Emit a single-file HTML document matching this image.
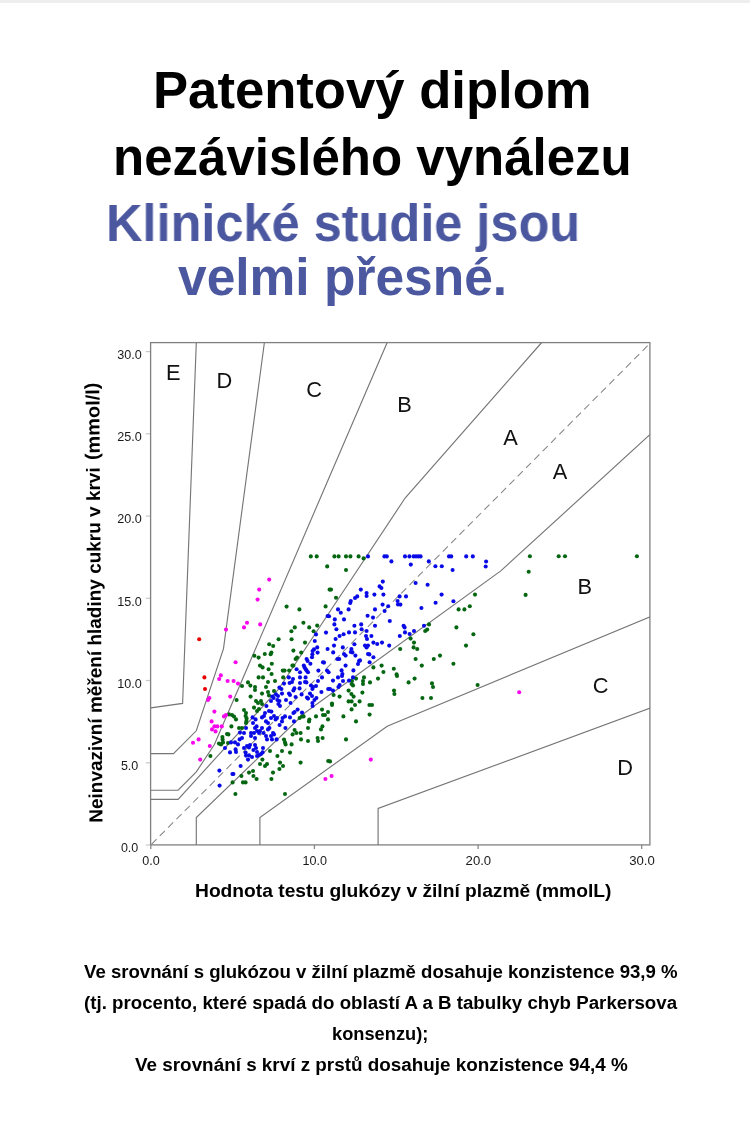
<!DOCTYPE html>
<html><head><meta charset="utf-8">
<style>
html,body{margin:0;padding:0;background:#fff;}
body{width:750px;height:1131px;position:relative;overflow:hidden;font-family:"Liberation Sans",sans-serif;}
.topbar{position:absolute;left:0;top:0;width:750px;height:3px;background:#eeeeee;}
.t{position:absolute;white-space:nowrap;font-weight:bold;line-height:1;transform-origin:0 0;will-change:transform;}
.h{font-size:51px;color:#000;}
.b{font-size:51px;color:#4b589f;}
.p{font-size:18px;color:#000;}
svg{position:absolute;left:0;top:0;will-change:transform;}
svg text{font-family:"Liberation Sans",sans-serif;}
</style></head><body>
<div class="topbar"></div>
<div class="t h" id="l1" style="left:152.8px;top:65.1px;transform:scaleX(1.032);">Patentový diplom</div>
<div class="t h" id="l2" style="left:112.8px;top:132.4px;transform:scaleX(1.0);">nezávislého vynálezu</div>
<div class="t b" id="l3" style="left:105.9px;top:198.3px;transform:scaleX(0.99);">Klinické studie jsou</div>
<div class="t b" id="l4" style="left:178px;top:252.4px;transform:scaleX(1.0095);">velmi přesné.</div>
<svg id="chart" width="750" height="1131" viewBox="0 0 750 1131">
<g id="ticks" fill="none" stroke="#c8c8c8" stroke-width="1.2"><line x1="150.8" y1="845" x2="150.8" y2="849" stroke="#8a8a8a" stroke-width="1.3"/><line x1="314.4" y1="845" x2="314.4" y2="849" stroke="#8a8a8a" stroke-width="1.3"/><line x1="478.1" y1="845" x2="478.1" y2="849" stroke="#8a8a8a" stroke-width="1.3"/><line x1="641.7" y1="845" x2="641.7" y2="849" stroke="#8a8a8a" stroke-width="1.3"/><line x1="145.7" y1="845.0" x2="150.8" y2="845.0"/><line x1="145.7" y1="762.8" x2="150.8" y2="762.8"/><line x1="145.7" y1="680.5" x2="150.8" y2="680.5"/><line x1="145.7" y1="598.3" x2="150.8" y2="598.3"/><line x1="145.7" y1="516.1" x2="150.8" y2="516.1"/><line x1="145.7" y1="433.8" x2="150.8" y2="433.8"/><line x1="145.7" y1="351.6" x2="150.8" y2="351.6"/></g>
<g id="frame" fill="none" stroke="#808080" stroke-width="1.3">
<rect x="150.6" y="342.6" width="499.3" height="502.3"/>
</g>
<clipPath id="cp"><rect x="150.6" y="342.6" width="499.3" height="502.3"/></clipPath>
<g id="zones" clip-path="url(#cp)" fill="none" stroke="#767676" stroke-width="1.15">
<polyline points="150.8,707.9 182.6,703.4 196.3,342.5"/>
<polyline points="150.8,753.6 173.5,753.6 196.3,730.8 223.5,648.6 264.4,342.5"/>
<polyline points="150.8,790.2 178.1,790.2 196.3,771.9 214.4,744.5 387.2,342.5"/>
<polyline points="150.8,799.3 178.1,799.3 278.1,689.7 405.3,497.8 541.7,342.5"/>
<polyline points="196.3,845.0 196.3,817.6 305.3,712.5 500.8,570.9 650.8,433.8"/>
<polyline points="259.9,845.0 259.9,817.6 387.2,726.2 650.8,616.6"/>
<polyline points="378.1,845.0 378.1,808.5 650.8,707.9"/>

<line x1="647.6" y1="345.7" x2="150.8" y2="845" stroke="#858585" stroke-width="1.05" stroke-dasharray="7.2,4.6"/>
</g>
<g id="dots">
<g fill="#046611"><circle cx="327.2" cy="566.4" r="2.05"/><circle cx="329.6" cy="589.6" r="2.05"/><circle cx="286.6" cy="606.6" r="2.05"/><circle cx="299.4" cy="609.4" r="2.05"/><circle cx="325.6" cy="606.4" r="2.05"/><circle cx="303.4" cy="622.8" r="2.05"/><circle cx="294.8" cy="627.4" r="2.05"/><circle cx="309.2" cy="627.4" r="2.05"/><circle cx="317.2" cy="625.6" r="2.05"/><circle cx="291.4" cy="631.2" r="2.05"/><circle cx="313.6" cy="631.2" r="2.05"/><circle cx="278.6" cy="639.2" r="2.05"/><circle cx="291.6" cy="639.2" r="2.05"/><circle cx="305" cy="642.6" r="2.05"/><circle cx="269.2" cy="644.2" r="2.05"/><circle cx="273.2" cy="646" r="2.05"/><circle cx="293.4" cy="650.6" r="2.05"/><circle cx="271.4" cy="652.6" r="2.05"/><circle cx="264.8" cy="654" r="2.05"/><circle cx="270.6" cy="654.2" r="2.05"/><circle cx="301.2" cy="652.6" r="2.05"/><circle cx="254.4" cy="655.8" r="2.05"/><circle cx="258.6" cy="657.6" r="2.05"/><circle cx="297" cy="657.6" r="2.05"/><circle cx="295.6" cy="659" r="2.05"/><circle cx="271.8" cy="663.8" r="2.05"/><circle cx="260" cy="665.6" r="2.05"/><circle cx="262.6" cy="667.4" r="2.05"/><circle cx="268.6" cy="669.2" r="2.05"/><circle cx="282.8" cy="670.6" r="2.05"/><circle cx="284.6" cy="670.6" r="2.05"/><circle cx="289.2" cy="670.6" r="2.05"/><circle cx="292.4" cy="665.6" r="2.05"/><circle cx="293.4" cy="665.6" r="2.05"/><circle cx="271.6" cy="674" r="2.05"/><circle cx="258.6" cy="677.4" r="2.05"/><circle cx="263" cy="677.4" r="2.05"/><circle cx="283.2" cy="677.4" r="2.05"/><circle cx="334.4" cy="556.4" r="2.05"/><circle cx="338.6" cy="556.4" r="2.05"/><circle cx="346" cy="556.4" r="2.05"/><circle cx="350.4" cy="556.4" r="2.05"/><circle cx="358.6" cy="556.4" r="2.05"/><circle cx="363.6" cy="558.4" r="2.05"/><circle cx="346" cy="570" r="2.05"/><circle cx="331" cy="589.6" r="2.05"/><circle cx="336" cy="597.8" r="2.05"/><circle cx="475" cy="594.6" r="2.05"/><circle cx="458.6" cy="609.4" r="2.05"/><circle cx="464.4" cy="609.4" r="2.05"/><circle cx="469.8" cy="606.2" r="2.05"/><circle cx="429" cy="624.4" r="2.05"/><circle cx="456.4" cy="627.4" r="2.05"/><circle cx="427.2" cy="629.6" r="2.05"/><circle cx="425.2" cy="631" r="2.05"/><circle cx="473.4" cy="634.2" r="2.05"/><circle cx="410.6" cy="638.6" r="2.05"/><circle cx="414" cy="642.6" r="2.05"/><circle cx="466" cy="645.6" r="2.05"/><circle cx="413.6" cy="647.4" r="2.05"/><circle cx="417.2" cy="649" r="2.05"/><circle cx="400.2" cy="649" r="2.05"/><circle cx="440" cy="655.6" r="2.05"/><circle cx="415.6" cy="659" r="2.05"/><circle cx="433.8" cy="659" r="2.05"/><circle cx="453.4" cy="663.8" r="2.05"/><circle cx="421.8" cy="665.6" r="2.05"/><circle cx="381.6" cy="665.6" r="2.05"/><circle cx="373.4" cy="667.4" r="2.05"/><circle cx="393.8" cy="668.8" r="2.05"/><circle cx="383.4" cy="672" r="2.05"/><circle cx="396.6" cy="674.4" r="2.05"/><circle cx="529.9" cy="556.3" r="2.05"/><circle cx="558.7" cy="556.3" r="2.05"/><circle cx="565" cy="556.3" r="2.05"/><circle cx="636.9" cy="556.3" r="2.05"/><circle cx="528.7" cy="571.7" r="2.05"/><circle cx="525.6" cy="594.9" r="2.05"/><circle cx="242" cy="686" r="2.05"/><circle cx="248" cy="682.4" r="2.05"/><circle cx="250.4" cy="685.6" r="2.05"/><circle cx="255" cy="687" r="2.05"/><circle cx="255" cy="690" r="2.05"/><circle cx="266" cy="687" r="2.05"/><circle cx="268" cy="682" r="2.05"/><circle cx="275" cy="681" r="2.05"/><circle cx="236.6" cy="700" r="2.05"/><circle cx="250.6" cy="696.6" r="2.05"/><circle cx="262" cy="693.6" r="2.05"/><circle cx="268" cy="692" r="2.05"/><circle cx="269" cy="695.4" r="2.05"/><circle cx="274" cy="691" r="2.05"/><circle cx="256" cy="701" r="2.05"/><circle cx="258" cy="703" r="2.05"/><circle cx="261" cy="701" r="2.05"/><circle cx="262" cy="704" r="2.05"/><circle cx="254" cy="707.6" r="2.05"/><circle cx="259" cy="709" r="2.05"/><circle cx="257" cy="711" r="2.05"/><circle cx="244" cy="710" r="2.05"/><circle cx="246" cy="713" r="2.05"/><circle cx="229" cy="714.4" r="2.05"/><circle cx="232" cy="715" r="2.05"/><circle cx="234" cy="716.6" r="2.05"/><circle cx="236" cy="719.4" r="2.05"/><circle cx="245.6" cy="716" r="2.05"/><circle cx="246.6" cy="718.4" r="2.05"/><circle cx="246.4" cy="721" r="2.05"/><circle cx="246" cy="723" r="2.05"/><circle cx="231.4" cy="726.4" r="2.05"/><circle cx="239" cy="728" r="2.05"/><circle cx="242" cy="728" r="2.05"/><circle cx="227" cy="734" r="2.05"/><circle cx="228.4" cy="734.4" r="2.05"/><circle cx="222.4" cy="737" r="2.05"/><circle cx="222.6" cy="739.6" r="2.05"/><circle cx="223" cy="742.4" r="2.05"/><circle cx="219" cy="743.6" r="2.05"/><circle cx="221" cy="744.4" r="2.05"/><circle cx="228" cy="743" r="2.05"/><circle cx="210.4" cy="756" r="2.05"/><circle cx="270" cy="751" r="2.05"/><circle cx="282" cy="751" r="2.05"/><circle cx="290" cy="752.6" r="2.05"/><circle cx="277.4" cy="756" r="2.05"/><circle cx="262.4" cy="759.6" r="2.05"/><circle cx="267" cy="764" r="2.05"/><circle cx="265" cy="766" r="2.05"/><circle cx="260" cy="764" r="2.05"/><circle cx="280" cy="762.6" r="2.05"/><circle cx="283" cy="766" r="2.05"/><circle cx="279.4" cy="769" r="2.05"/><circle cx="300.6" cy="762.6" r="2.05"/><circle cx="273" cy="772.6" r="2.05"/><circle cx="249" cy="772.6" r="2.05"/><circle cx="253" cy="771" r="2.05"/><circle cx="253.4" cy="776" r="2.05"/><circle cx="256.6" cy="779" r="2.05"/><circle cx="271.4" cy="779" r="2.05"/><circle cx="241.4" cy="776" r="2.05"/><circle cx="243" cy="782.4" r="2.05"/><circle cx="245.6" cy="782.4" r="2.05"/><circle cx="232.6" cy="782.4" r="2.05"/><circle cx="235.4" cy="794" r="2.05"/><circle cx="285" cy="794" r="2.05"/><circle cx="328.2" cy="761" r="2.05"/><circle cx="284" cy="739.6" r="2.05"/><circle cx="285" cy="742.4" r="2.05"/><circle cx="285.6" cy="744.4" r="2.05"/><circle cx="291.6" cy="744.4" r="2.05"/><circle cx="292.6" cy="734.4" r="2.05"/><circle cx="294.6" cy="730" r="2.05"/><circle cx="296.4" cy="733" r="2.05"/><circle cx="300.6" cy="733" r="2.05"/><circle cx="301" cy="739.4" r="2.05"/><circle cx="308" cy="741" r="2.05"/><circle cx="317.6" cy="738" r="2.05"/><circle cx="318" cy="741" r="2.05"/><circle cx="322.6" cy="738" r="2.05"/><circle cx="308" cy="728" r="2.05"/><circle cx="309.4" cy="719.6" r="2.05"/><circle cx="309" cy="721.4" r="2.05"/><circle cx="316" cy="716.4" r="2.05"/><circle cx="322" cy="709.6" r="2.05"/><circle cx="323" cy="715" r="2.05"/><circle cx="325" cy="715" r="2.05"/><circle cx="328" cy="712" r="2.05"/><circle cx="328" cy="719.4" r="2.05"/><circle cx="322.4" cy="726.4" r="2.05"/><circle cx="321" cy="729.4" r="2.05"/><circle cx="299.6" cy="718" r="2.05"/><circle cx="302" cy="716.4" r="2.05"/><circle cx="303.6" cy="716.4" r="2.05"/><circle cx="364" cy="677.4" r="2.05"/><circle cx="363" cy="681" r="2.05"/><circle cx="363" cy="684" r="2.05"/><circle cx="356" cy="678.6" r="2.05"/><circle cx="352" cy="681" r="2.05"/><circle cx="351.6" cy="684" r="2.05"/><circle cx="353" cy="685.4" r="2.05"/><circle cx="370" cy="682.4" r="2.05"/><circle cx="378" cy="678.6" r="2.05"/><circle cx="397" cy="676" r="2.05"/><circle cx="408.6" cy="682.4" r="2.05"/><circle cx="414.6" cy="678.6" r="2.05"/><circle cx="432" cy="683.4" r="2.05"/><circle cx="433" cy="687" r="2.05"/><circle cx="477.6" cy="685" r="2.05"/><circle cx="348.6" cy="690.6" r="2.05"/><circle cx="351.4" cy="694" r="2.05"/><circle cx="353.6" cy="696.6" r="2.05"/><circle cx="362.4" cy="692.6" r="2.05"/><circle cx="394" cy="690.6" r="2.05"/><circle cx="394.4" cy="694" r="2.05"/><circle cx="333.6" cy="695" r="2.05"/><circle cx="339.6" cy="696.6" r="2.05"/><circle cx="422.4" cy="698" r="2.05"/><circle cx="431" cy="698" r="2.05"/><circle cx="348.6" cy="701.4" r="2.05"/><circle cx="351.6" cy="701.4" r="2.05"/><circle cx="359.6" cy="701.4" r="2.05"/><circle cx="332" cy="703.6" r="2.05"/><circle cx="332" cy="705" r="2.05"/><circle cx="355" cy="705" r="2.05"/><circle cx="369.4" cy="705" r="2.05"/><circle cx="372" cy="705" r="2.05"/><circle cx="351.6" cy="709.4" r="2.05"/><circle cx="343.4" cy="716.4" r="2.05"/><circle cx="369.6" cy="714.6" r="2.05"/><circle cx="356" cy="721.4" r="2.05"/><circle cx="346" cy="739.4" r="2.05"/><circle cx="330" cy="761.4" r="2.05"/><circle cx="310.8" cy="556.4" r="2.05"/><circle cx="316.7" cy="556.4" r="2.05"/></g>
<g fill="#0a0ae6"><circle cx="327.6" cy="616" r="2.05"/><circle cx="329" cy="616.2" r="2.05"/><circle cx="326" cy="632.6" r="2.05"/><circle cx="316" cy="634.4" r="2.05"/><circle cx="314.8" cy="641" r="2.05"/><circle cx="317.2" cy="647.4" r="2.05"/><circle cx="327.6" cy="649" r="2.05"/><circle cx="314" cy="649.4" r="2.05"/><circle cx="312.6" cy="651" r="2.05"/><circle cx="317.6" cy="652.6" r="2.05"/><circle cx="312.4" cy="654.2" r="2.05"/><circle cx="312" cy="657.2" r="2.05"/><circle cx="306.6" cy="659" r="2.05"/><circle cx="307.6" cy="661" r="2.05"/><circle cx="323" cy="662.2" r="2.05"/><circle cx="324" cy="662.6" r="2.05"/><circle cx="310.4" cy="663.8" r="2.05"/><circle cx="303.8" cy="665.6" r="2.05"/><circle cx="304.6" cy="667.4" r="2.05"/><circle cx="296.6" cy="669.2" r="2.05"/><circle cx="305.8" cy="669.2" r="2.05"/><circle cx="306.6" cy="670.6" r="2.05"/><circle cx="318.4" cy="670.6" r="2.05"/><circle cx="300" cy="672.2" r="2.05"/><circle cx="308" cy="672.2" r="2.05"/><circle cx="327" cy="670.6" r="2.05"/><circle cx="328.6" cy="672.2" r="2.05"/><circle cx="300" cy="677.4" r="2.05"/><circle cx="305.6" cy="677.4" r="2.05"/><circle cx="288.8" cy="677.4" r="2.05"/><circle cx="322" cy="677.4" r="2.05"/><circle cx="293" cy="679" r="2.05"/><circle cx="368" cy="556.4" r="2.05"/><circle cx="384.4" cy="556.4" r="2.05"/><circle cx="386.8" cy="556.4" r="2.05"/><circle cx="405" cy="556.4" r="2.05"/><circle cx="409.4" cy="556.4" r="2.05"/><circle cx="413.6" cy="556.4" r="2.05"/><circle cx="416" cy="556.4" r="2.05"/><circle cx="418.4" cy="556.4" r="2.05"/><circle cx="420.6" cy="556.4" r="2.05"/><circle cx="449" cy="556.4" r="2.05"/><circle cx="451.2" cy="556.4" r="2.05"/><circle cx="466.2" cy="556.4" r="2.05"/><circle cx="472.8" cy="556.4" r="2.05"/><circle cx="391.4" cy="561.4" r="2.05"/><circle cx="410.8" cy="564.6" r="2.05"/><circle cx="428.8" cy="561.4" r="2.05"/><circle cx="435.4" cy="566.2" r="2.05"/><circle cx="441.8" cy="566.2" r="2.05"/><circle cx="452.6" cy="570" r="2.05"/><circle cx="382.8" cy="581.6" r="2.05"/><circle cx="415.6" cy="583" r="2.05"/><circle cx="427.6" cy="584.8" r="2.05"/><circle cx="379.6" cy="586.4" r="2.05"/><circle cx="381.4" cy="588" r="2.05"/><circle cx="360.8" cy="589.6" r="2.05"/><circle cx="366.6" cy="593" r="2.05"/><circle cx="366.6" cy="596" r="2.05"/><circle cx="374.4" cy="594.6" r="2.05"/><circle cx="383.4" cy="594.6" r="2.05"/><circle cx="441.6" cy="594.6" r="2.05"/><circle cx="357.2" cy="596.4" r="2.05"/><circle cx="355" cy="598" r="2.05"/><circle cx="399.6" cy="596.4" r="2.05"/><circle cx="406" cy="596.4" r="2.05"/><circle cx="350.8" cy="601" r="2.05"/><circle cx="350.2" cy="603" r="2.05"/><circle cx="397.6" cy="601" r="2.05"/><circle cx="398" cy="604.4" r="2.05"/><circle cx="400.4" cy="604.6" r="2.05"/><circle cx="382.6" cy="604.6" r="2.05"/><circle cx="388.2" cy="606.2" r="2.05"/><circle cx="435.6" cy="602.8" r="2.05"/><circle cx="453.4" cy="601.2" r="2.05"/><circle cx="421.4" cy="608" r="2.05"/><circle cx="338" cy="609.4" r="2.05"/><circle cx="348.6" cy="609.4" r="2.05"/><circle cx="375" cy="609.4" r="2.05"/><circle cx="384.6" cy="611" r="2.05"/><circle cx="340.8" cy="612.8" r="2.05"/><circle cx="367.6" cy="615.8" r="2.05"/><circle cx="373" cy="617.6" r="2.05"/><circle cx="334.8" cy="619.4" r="2.05"/><circle cx="344" cy="619.4" r="2.05"/><circle cx="389.8" cy="621" r="2.05"/><circle cx="334.4" cy="624.4" r="2.05"/><circle cx="361.2" cy="624.4" r="2.05"/><circle cx="354.4" cy="625.8" r="2.05"/><circle cx="375" cy="625.8" r="2.05"/><circle cx="403.6" cy="625.8" r="2.05"/><circle cx="404.6" cy="627.4" r="2.05"/><circle cx="424" cy="625.8" r="2.05"/><circle cx="336.4" cy="629.2" r="2.05"/><circle cx="361.6" cy="629.2" r="2.05"/><circle cx="366.6" cy="631" r="2.05"/><circle cx="414" cy="631" r="2.05"/><circle cx="349" cy="632.4" r="2.05"/><circle cx="355" cy="632.4" r="2.05"/><circle cx="405" cy="632.4" r="2.05"/><circle cx="409.6" cy="634" r="2.05"/><circle cx="343.6" cy="634.2" r="2.05"/><circle cx="339.6" cy="636" r="2.05"/><circle cx="366" cy="636" r="2.05"/><circle cx="371.4" cy="636" r="2.05"/><circle cx="399.8" cy="636" r="2.05"/><circle cx="335.6" cy="639" r="2.05"/><circle cx="367" cy="639" r="2.05"/><circle cx="373.4" cy="642.6" r="2.05"/><circle cx="377.2" cy="644" r="2.05"/><circle cx="382" cy="642.6" r="2.05"/><circle cx="354.4" cy="644.2" r="2.05"/><circle cx="389.2" cy="645.6" r="2.05"/><circle cx="334" cy="645.6" r="2.05"/><circle cx="365" cy="645.6" r="2.05"/><circle cx="368" cy="645.6" r="2.05"/><circle cx="342.8" cy="647.4" r="2.05"/><circle cx="366.6" cy="647.4" r="2.05"/><circle cx="351.4" cy="649" r="2.05"/><circle cx="350.8" cy="652" r="2.05"/><circle cx="352.4" cy="652.4" r="2.05"/><circle cx="333.2" cy="652.4" r="2.05"/><circle cx="344" cy="654" r="2.05"/><circle cx="368" cy="654" r="2.05"/><circle cx="369.4" cy="654.4" r="2.05"/><circle cx="355.4" cy="655.6" r="2.05"/><circle cx="345.6" cy="655.6" r="2.05"/><circle cx="373.4" cy="657.2" r="2.05"/><circle cx="337.4" cy="659" r="2.05"/><circle cx="339.2" cy="659" r="2.05"/><circle cx="360" cy="660.4" r="2.05"/><circle cx="359" cy="661" r="2.05"/><circle cx="369.6" cy="662.2" r="2.05"/><circle cx="358" cy="664" r="2.05"/><circle cx="345.6" cy="665.6" r="2.05"/><circle cx="341.6" cy="670.4" r="2.05"/><circle cx="353.4" cy="670.4" r="2.05"/><circle cx="342.4" cy="674" r="2.05"/><circle cx="486.1" cy="561.5" r="2.05"/><circle cx="485.7" cy="566.5" r="2.05"/><circle cx="284" cy="683.6" r="2.05"/><circle cx="279.4" cy="687.6" r="2.05"/><circle cx="281.4" cy="689" r="2.05"/><circle cx="289.6" cy="683" r="2.05"/><circle cx="292" cy="682" r="2.05"/><circle cx="294.4" cy="688.4" r="2.05"/><circle cx="293.4" cy="690.4" r="2.05"/><circle cx="299.6" cy="688.4" r="2.05"/><circle cx="300" cy="683" r="2.05"/><circle cx="305" cy="682" r="2.05"/><circle cx="306.4" cy="682.4" r="2.05"/><circle cx="311" cy="685.6" r="2.05"/><circle cx="313" cy="687" r="2.05"/><circle cx="312.4" cy="689" r="2.05"/><circle cx="316" cy="686" r="2.05"/><circle cx="318" cy="681" r="2.05"/><circle cx="321.4" cy="692" r="2.05"/><circle cx="328.2" cy="689" r="2.05"/><circle cx="310" cy="693.6" r="2.05"/><circle cx="312" cy="696" r="2.05"/><circle cx="316.4" cy="698" r="2.05"/><circle cx="314.4" cy="700" r="2.05"/><circle cx="307" cy="697.6" r="2.05"/><circle cx="308" cy="698.6" r="2.05"/><circle cx="301.6" cy="694.4" r="2.05"/><circle cx="295.6" cy="697" r="2.05"/><circle cx="289" cy="693.6" r="2.05"/><circle cx="290" cy="695" r="2.05"/><circle cx="286" cy="700" r="2.05"/><circle cx="282" cy="693.6" r="2.05"/><circle cx="278" cy="696" r="2.05"/><circle cx="276" cy="694.4" r="2.05"/><circle cx="272.4" cy="696.6" r="2.05"/><circle cx="273.6" cy="698" r="2.05"/><circle cx="271" cy="701" r="2.05"/><circle cx="277.4" cy="700" r="2.05"/><circle cx="279.4" cy="701" r="2.05"/><circle cx="278.4" cy="704" r="2.05"/><circle cx="280" cy="706" r="2.05"/><circle cx="290.6" cy="703" r="2.05"/><circle cx="312.4" cy="703" r="2.05"/><circle cx="312.6" cy="706" r="2.05"/><circle cx="297.6" cy="709.6" r="2.05"/><circle cx="302" cy="712.6" r="2.05"/><circle cx="294.6" cy="712" r="2.05"/><circle cx="293.4" cy="713" r="2.05"/><circle cx="290" cy="717.4" r="2.05"/><circle cx="294" cy="721.4" r="2.05"/><circle cx="285" cy="716.4" r="2.05"/><circle cx="282.6" cy="718" r="2.05"/><circle cx="282" cy="721.4" r="2.05"/><circle cx="285.4" cy="728" r="2.05"/><circle cx="279.6" cy="725" r="2.05"/><circle cx="277" cy="718" r="2.05"/><circle cx="274" cy="716" r="2.05"/><circle cx="275.6" cy="719.4" r="2.05"/><circle cx="271" cy="718" r="2.05"/><circle cx="271.4" cy="711.6" r="2.05"/><circle cx="269" cy="711" r="2.05"/><circle cx="266.4" cy="706" r="2.05"/><circle cx="265" cy="713" r="2.05"/><circle cx="264" cy="716" r="2.05"/><circle cx="262" cy="717.4" r="2.05"/><circle cx="266" cy="721.4" r="2.05"/><circle cx="268" cy="723" r="2.05"/><circle cx="269.4" cy="728" r="2.05"/><circle cx="268" cy="729.4" r="2.05"/><circle cx="273" cy="733" r="2.05"/><circle cx="274" cy="734.4" r="2.05"/><circle cx="271" cy="736" r="2.05"/><circle cx="272" cy="739.4" r="2.05"/><circle cx="276.6" cy="739.4" r="2.05"/><circle cx="266" cy="736" r="2.05"/><circle cx="267" cy="739.4" r="2.05"/><circle cx="263.6" cy="733" r="2.05"/><circle cx="262" cy="728" r="2.05"/><circle cx="260" cy="731" r="2.05"/><circle cx="256.6" cy="726.4" r="2.05"/><circle cx="255" cy="728" r="2.05"/><circle cx="257" cy="731" r="2.05"/><circle cx="254" cy="733" r="2.05"/><circle cx="251" cy="733" r="2.05"/><circle cx="251" cy="736" r="2.05"/><circle cx="255" cy="738" r="2.05"/><circle cx="259" cy="733" r="2.05"/><circle cx="252.6" cy="717.4" r="2.05"/><circle cx="255.6" cy="719.4" r="2.05"/><circle cx="253" cy="723" r="2.05"/><circle cx="246" cy="728" r="2.05"/><circle cx="244" cy="733" r="2.05"/><circle cx="240" cy="732.6" r="2.05"/><circle cx="242" cy="738" r="2.05"/><circle cx="239.6" cy="739.4" r="2.05"/><circle cx="235" cy="742.4" r="2.05"/><circle cx="238" cy="744.4" r="2.05"/><circle cx="231" cy="742.4" r="2.05"/><circle cx="225" cy="748" r="2.05"/><circle cx="230" cy="752.4" r="2.05"/><circle cx="235.6" cy="749.4" r="2.05"/><circle cx="236" cy="752" r="2.05"/><circle cx="244" cy="748" r="2.05"/><circle cx="247" cy="746" r="2.05"/><circle cx="249" cy="747.4" r="2.05"/><circle cx="250" cy="745" r="2.05"/><circle cx="255" cy="745" r="2.05"/><circle cx="256" cy="748" r="2.05"/><circle cx="253.4" cy="750" r="2.05"/><circle cx="257" cy="752" r="2.05"/><circle cx="263" cy="748" r="2.05"/><circle cx="262.6" cy="752.4" r="2.05"/><circle cx="261" cy="754" r="2.05"/><circle cx="259" cy="755" r="2.05"/><circle cx="257" cy="756" r="2.05"/><circle cx="252" cy="757" r="2.05"/><circle cx="249" cy="755.4" r="2.05"/><circle cx="246" cy="755.6" r="2.05"/><circle cx="245.6" cy="752.6" r="2.05"/><circle cx="248" cy="759.6" r="2.05"/><circle cx="240.6" cy="766" r="2.05"/><circle cx="219.4" cy="770.6" r="2.05"/><circle cx="232.4" cy="774" r="2.05"/><circle cx="233.4" cy="774" r="2.05"/><circle cx="219.6" cy="785.6" r="2.05"/><circle cx="338" cy="677.4" r="2.05"/><circle cx="342" cy="676" r="2.05"/><circle cx="333" cy="680.6" r="2.05"/><circle cx="339.6" cy="685" r="2.05"/><circle cx="338.4" cy="687" r="2.05"/><circle cx="343" cy="681" r="2.05"/><circle cx="349" cy="680.6" r="2.05"/><circle cx="353" cy="677.4" r="2.05"/><circle cx="333" cy="690.6" r="2.05"/><circle cx="330" cy="689" r="2.05"/></g>
<g fill="#f806ee"><circle cx="269.2" cy="579.6" r="2.05"/><circle cx="259.2" cy="589.6" r="2.05"/><circle cx="257.6" cy="599.6" r="2.05"/><circle cx="247" cy="622.8" r="2.05"/><circle cx="244" cy="627.4" r="2.05"/><circle cx="260.2" cy="624.4" r="2.05"/><circle cx="226" cy="629.6" r="2.05"/><circle cx="235.6" cy="662.2" r="2.05"/><circle cx="220.8" cy="675.4" r="2.05"/><circle cx="219.2" cy="679" r="2.05"/><circle cx="227.6" cy="681" r="2.05"/><circle cx="233.6" cy="681" r="2.05"/><circle cx="238" cy="683.6" r="2.05"/><circle cx="209.4" cy="698" r="2.05"/><circle cx="208" cy="700" r="2.05"/><circle cx="230.2" cy="696.6" r="2.05"/><circle cx="214.4" cy="711.6" r="2.05"/><circle cx="224" cy="716.4" r="2.05"/><circle cx="226" cy="715" r="2.05"/><circle cx="211.6" cy="721.4" r="2.05"/><circle cx="214.4" cy="726.4" r="2.05"/><circle cx="217.4" cy="726.4" r="2.05"/><circle cx="221.8" cy="726.4" r="2.05"/><circle cx="212" cy="729.4" r="2.05"/><circle cx="215.6" cy="731.4" r="2.05"/><circle cx="198.6" cy="739.4" r="2.05"/><circle cx="193" cy="742.8" r="2.05"/><circle cx="209.8" cy="746" r="2.05"/><circle cx="200.2" cy="759.6" r="2.05"/><circle cx="325.4" cy="779" r="2.05"/><circle cx="370.8" cy="759.6" r="2.05"/><circle cx="331.6" cy="776" r="2.05"/><circle cx="519.2" cy="692.2" r="2.05"/></g>
<g fill="#e60000"><circle cx="199.2" cy="639.2" r="2.05"/><circle cx="204.4" cy="677.4" r="2.05"/><circle cx="205" cy="689" r="2.05"/></g>
</g>
<g id="ticklabels" font-size="12.4" fill="#1a1a1a"><text x="151.1" y="864.8" text-anchor="middle" textLength="17.5" lengthAdjust="spacingAndGlyphs">0.0</text><text x="314.7" y="864.8" text-anchor="middle" textLength="24.5" lengthAdjust="spacingAndGlyphs">10.0</text><text x="478.4" y="864.8" text-anchor="middle" textLength="25.6" lengthAdjust="spacingAndGlyphs">20.0</text><text x="642.0" y="864.8" text-anchor="middle" textLength="25.6" lengthAdjust="spacingAndGlyphs">30.0</text><text x="129.6" y="852.3" text-anchor="middle" textLength="17.4" lengthAdjust="spacingAndGlyphs">0.0</text><text x="129.6" y="770.1" text-anchor="middle" textLength="17.4" lengthAdjust="spacingAndGlyphs">5.0</text><text x="129.6" y="687.8" text-anchor="middle" textLength="24.6" lengthAdjust="spacingAndGlyphs">10.0</text><text x="129.6" y="605.6" text-anchor="middle" textLength="24.6" lengthAdjust="spacingAndGlyphs">15.0</text><text x="129.6" y="523.4" text-anchor="middle" textLength="24.6" lengthAdjust="spacingAndGlyphs">20.0</text><text x="129.6" y="441.1" text-anchor="middle" textLength="24.6" lengthAdjust="spacingAndGlyphs">25.0</text><text x="129.6" y="358.9" text-anchor="middle" textLength="24.6" lengthAdjust="spacingAndGlyphs">30.0</text></g>
<g id="zonelabels" font-size="21.8" fill="#111"><text x="173.3" y="380.2" text-anchor="middle">E</text><text x="224.3" y="388.3" text-anchor="middle">D</text><text x="314.1" y="396.8" text-anchor="middle">C</text><text x="404.4" y="412.0" text-anchor="middle">B</text><text x="510.6" y="445.2" text-anchor="middle">A</text><text x="560.0" y="478.8" text-anchor="middle">A</text><text x="584.8" y="594.0" text-anchor="middle">B</text><text x="600.6" y="693.0" text-anchor="middle">C</text><text x="625.0" y="774.8" text-anchor="middle">D</text></g>
<text id="yl" transform="translate(102.5,822.7) rotate(-90.43)" font-size="19" font-weight="bold" fill="#000" textLength="355.4" lengthAdjust="spacingAndGlyphs">Neinvazivní měření hladiny cukru v krvi</text>
<text id="yl2" transform="translate(99.8,460) rotate(-90.43)" font-size="19" font-weight="bold" fill="#000" textLength="77.4" lengthAdjust="spacingAndGlyphs"><tspan dy="-1.2">(</tspan><tspan dy="1.2">mmol/l</tspan><tspan dy="-1.2">)</tspan></text>
</svg>
<div class="t p" id="xl" style="left:194.8px;top:882px;font-size:18.5px;transform:scaleX(1.0387);">Hodnota testu glukózy v žilní plazmě (mmolL)</div>
<div class="t p" id="p1" style="left:83.9px;top:963.3px;transform:scaleX(1.0338);">Ve srovnání s glukózou v žilní plazmě dosahuje konzistence 93,9 %</div>
<div class="t p" id="p2" style="left:83.5px;top:994.3px;transform:scaleX(1.039);">(tj. procento, které spadá do oblastí A a B tabulky chyb Parkersova</div>
<div class="t p" id="p3" style="left:332px;top:1025.3px;transform:scaleX(1.014);">konsenzu);</div>
<div class="t p" id="p4" style="left:134.5px;top:1056.3px;transform:scaleX(1.048);">Ve srovnání s krví z prstů dosahuje konzistence 94,4 %</div>
</body></html>
